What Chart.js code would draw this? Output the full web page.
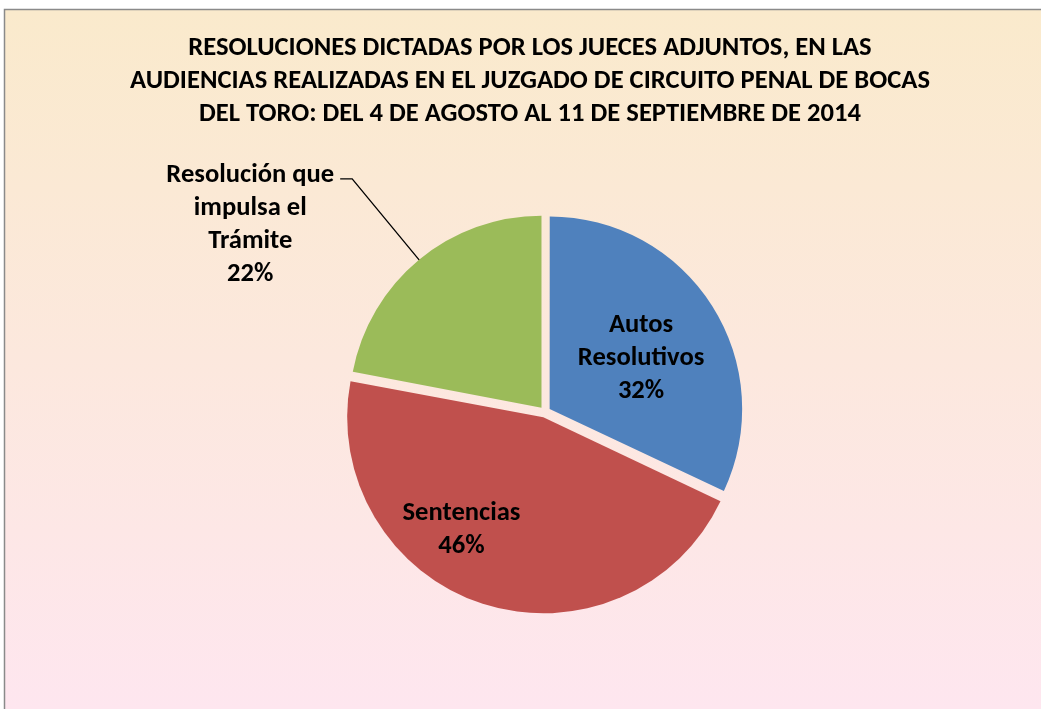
<!DOCTYPE html>
<html>
<head>
<meta charset="utf-8">
<script src="https://cdn.jsdelivr.net/npm/chart.js@4"></script>
<style>
  html, body { margin: 0; padding: 0; background: #fff; }
  canvas { display: block; }
</style>
</head>
<body>
<canvas id="pie_chart" width="1041" height="709"></canvas>
<script>
const titleLines = [
	"RESOLUCIONES DICTADAS POR LOS JUECES ADJUNTOS, EN LAS",
	"AUDIENCIAS REALIZADAS EN EL JUZGADO DE CIRCUITO PENAL DE BOCAS",
	"DEL TORO: DEL 4 DE AGOSTO AL 11 DE SEPTIEMBRE DE 2014",
];
const categories = ["Autos Resolutivos", "Sentencias", "Resolución que impulsa el Trámite"];
const labelLines = [["Autos", "Resolutivos"], ["Sentencias"], ["Resolución que", "impulsa el", "Trámite"]];
const percentages = [32, 46, 22];
const sliceColors = ["#4F81BD", "#C0504D", "#9BBB59"];

const fontFamily = 'Carlito, "Liberation Sans Narrow", "Open Sans", sans-serif';
const titleFont = "bold 26.6px " + fontFamily;
const labelFont = "bold 26.6px " + fontFamily;
const lineStep = 33;
const textNudge = 3; // "middle" baseline sits a bit high for this font

// label placement: inside labels sit along the slice, the last one goes outside with a leader
const labelOutside = [false, false, true];
const labelRadius = [0.58, 0.74, 0];
const labelShift = [2, 18, 0]; // degrees

const frameAndTitle = {
	id: "frameAndTitle",
	beforeDraw(chart) {
		const ctx = chart.ctx;
		const w = chart.width, h = chart.height;
		ctx.save();
		ctx.fillStyle = "#fff";
		ctx.fillRect(0, 0, w, h);
		const grad = ctx.createLinearGradient(0, 10, 0, h);
		grad.addColorStop(0, "#FAEACC");
		grad.addColorStop(1, "#FEE6EF");
		ctx.fillStyle = grad;
		ctx.fillRect(5, 10, w, h);
		ctx.strokeStyle = "#8a8a8a";
		ctx.lineWidth = 1.5;
		ctx.beginPath();
		ctx.moveTo(4.5, h);
		ctx.lineTo(4.5, 9.5);
		ctx.lineTo(w, 9.5);
		ctx.stroke();

		ctx.font = titleFont;
		ctx.fillStyle = "#000";
		ctx.textAlign = "center";
		ctx.textBaseline = "middle";
		titleLines.forEach((line, i) => ctx.fillText(line, 530, 48 + i * lineStep));
		ctx.restore();
	},
};

const sliceLabels = {
	id: "sliceLabels",
	afterDatasetsDraw(chart) {
		const ctx = chart.ctx;
		const arcs = chart.getDatasetMeta(0).data;
		ctx.save();
		ctx.font = labelFont;
		ctx.fillStyle = "#000";
		ctx.textBaseline = "middle";
		arcs.forEach((arc, i) => {
			const lines = labelLines[i].concat(percentages[i] + "%");
			const mid = (arc.startAngle + arc.endAngle) / 2;
			const shift = (arc.options.offset || 0) / 4;
			if (labelOutside[i]) {
				const dx = Math.cos(mid), dy = Math.sin(mid);
				const r0 = arc.outerRadius + shift;
				const edge = { x: arc.x + dx * r0, y: arc.y + dy * r0 };
				const elbow = { x: arc.x + dx * (r0 + 105), y: arc.y + dy * (r0 + 105) };
				const end = { x: elbow.x - 12, y: elbow.y };
				ctx.strokeStyle = "#000";
				ctx.lineWidth = 1.3;
				ctx.beginPath();
				ctx.moveTo(edge.x, edge.y);
				ctx.lineTo(elbow.x, elbow.y);
				ctx.lineTo(end.x, end.y);
				ctx.stroke();
				const widest = Math.max(...lines.map((t) => ctx.measureText(t).width));
				const cx = end.x - 6 - widest / 2;
				ctx.textAlign = "center";
				lines.forEach((t, k) => ctx.fillText(t, cx, end.y - 7 + textNudge + k * lineStep));
			} else {
				const a = mid + (labelShift[i] * Math.PI) / 180;
				const r = arc.outerRadius * labelRadius[i];
				const cx = arc.x + Math.cos(a) * r;
				const cy = arc.y + Math.sin(a) * r + textNudge;
				ctx.textAlign = "center";
				lines.forEach((t, k) => ctx.fillText(t, cx, cy + (k - (lines.length - 1) / 2) * lineStep));
			}
		});
		ctx.restore();
	},
};

const config = {
	type: "pie",
	data: {
		labels: categories,
		datasets: [
			{
				data: percentages,
				backgroundColor: sliceColors,
				borderWidth: 0,
				offset: 22,
				clip: false,
			},
		],
	},
	options: {
		responsive: false,
		animation: false,
		events: [],
		radius: 192,
		layout: {
			padding: { left: 49, right: 0, top: 120, bottom: 5 },
		},
		plugins: {
			legend: { display: false },
			tooltip: { enabled: false },
			title: { display: false },
		},
	},
	plugins: [frameAndTitle, sliceLabels],
};

new Chart(document.getElementById("pie_chart").getContext("2d"), config);
</script>
</body>
</html>
